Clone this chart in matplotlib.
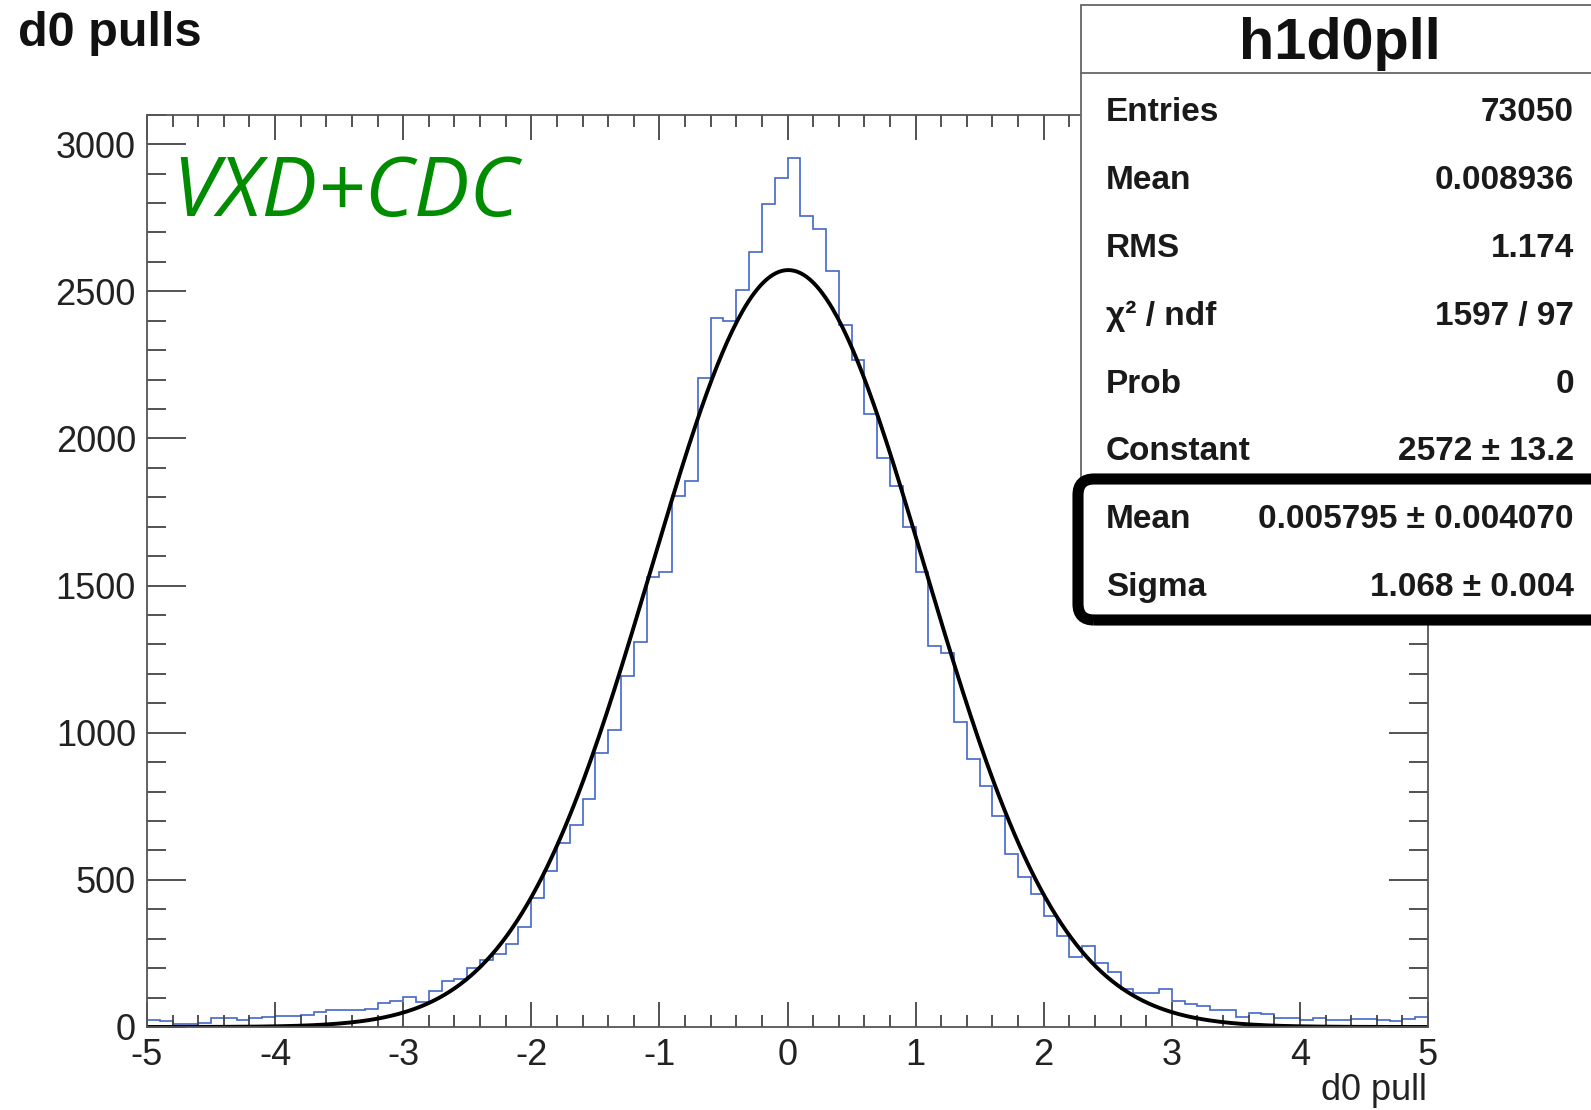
import numpy as np
import matplotlib
matplotlib.use("Agg")
import matplotlib.pyplot as plt
from matplotlib.patches import Rectangle, FancyBboxPatch
from matplotlib.lines import Line2D
from matplotlib.ticker import MultipleLocator

# === DATOS ===
x_min, x_max, n_bins = -5.0, 5.0, 100
counts = [
    23, 19, 11, 11, 12, 29, 31, 25, 29, 34,
    36, 38, 42, 52, 57, 59, 59, 60, 82, 87,
    102, 85, 122, 155, 163, 200, 226, 248, 283, 340,
    440, 530, 625, 685, 775, 930, 1010, 1194, 1309, 1529,
    1546, 1805, 1855, 2205, 2408, 2400, 2505, 2635, 2795, 2885,
    2952, 2757, 2712, 2568, 2385, 2265, 2083, 1932, 1840, 1700,
    1546, 1296, 1272, 1038, 910, 818, 716, 589, 509, 453,
    376, 309, 239, 274, 217, 186, 129, 116, 116, 129,
    87, 79, 72, 57, 59, 34, 48, 45, 31, 29,
    25, 31, 23, 25, 27, 27, 25, 19, 27, 34,
]

# parametros del ajuste gaussiano (de la caja de estadisticas)
fit_const = 2572.0
fit_mean = 0.005795
fit_sigma = 1.068

stat_labels = ["Entries", "Mean", "RMS", "\u03c7\u00b2 / ndf", "Prob",
               "Constant", "Mean", "Sigma"]
stat_values = ["73050", "0.008936", "1.174", "1597 / 97", "0",
               "2572 \u00b1 13.2", "0.005795 \u00b1 0.004070", "1.068 \u00b1 0.004"]

hist_name = "h1d0pll"
titulo = "d0 pulls"
etiqueta_x = "d0 pull"
etiqueta_extra = "VXD+CDC"

# === ESTILO ===
W, H = 1591, 1110
plt.rcParams["font.family"] = ["Liberation Sans", "DejaVu Sans"]
plt.rcParams["axes.unicode_minus"] = False

fig = plt.figure(figsize=(W / 100, H / 100), dpi=100)

# ejes en pixeles de la figura
ax_l, ax_r, ax_t, ax_b = 147, 1428, 114.7, 1027
ax = fig.add_axes([ax_l / W, 1 - ax_b / H, (ax_r - ax_l) / W, (ax_b - ax_t) / H])

edges = np.linspace(x_min, x_max, n_bins + 1)
ax.stairs(counts, edges, baseline=None, color="#4466c8", linewidth=1.2)

xf = np.linspace(x_min, x_max, 500)
yf = fit_const * np.exp(-0.5 * ((xf - fit_mean) / fit_sigma) ** 2)
ax.plot(xf, yf, color="black", linewidth=2.8)

ax.set_xlim(x_min, x_max)
ax.set_ylim(0, 3100)
ax.xaxis.set_major_locator(MultipleLocator(1))
ax.xaxis.set_minor_locator(MultipleLocator(0.2))
ax.yaxis.set_major_locator(MultipleLocator(500))
ax.yaxis.set_minor_locator(MultipleLocator(100))
ax.tick_params(which="both", direction="in", top=True, right=True,
               color="#444444", width=1.3, labelsize=26, labelcolor="#222222")
ax.tick_params(axis="x", which="major", length=18, pad=8)
ax.tick_params(axis="x", which="minor", length=8.5)
ax.tick_params(axis="y", which="major", length=28, pad=8)
ax.tick_params(axis="y", which="minor", length=13.5)
for s in ax.spines.values():
    s.set_color("#555555")
    s.set_linewidth(1.3)


def fx(px):
    return px / 100


def fy(py):
    return (H - py) / 100


tr = fig.dpi_scale_trans

fig.text(fx(1427), fy(1100), etiqueta_x, transform=tr, fontsize=26,
         ha="right", va="baseline", color="#222222")
fig.text(fx(18), fy(46), titulo, transform=tr, fontsize=35,
         fontweight="bold", ha="left", va="baseline", color="#111111")
fig.text(fx(172), fy(216), etiqueta_extra, transform=tr, fontsize=60,
         family=["Open Sans", "DejaVu Sans"], style="italic",
         color="#008c00", ha="left", va="baseline")

# caja de estadisticas
fig.patches.append(Rectangle((fx(1081), fy(616)), fx(560), (616 - 5) / 100,
                             transform=tr, facecolor="white",
                             edgecolor="#666666", linewidth=1.3, zorder=5))
fig.lines.append(Line2D([fx(1081), fx(1600)], [fy(73), fy(73)], transform=tr,
                        color="#666666", linewidth=1.3, zorder=6))
fig.text(fx(1340), fy(59), hist_name, transform=tr, fontsize=41.5,
         fontweight="bold", ha="center", va="baseline", color="#111111",
         zorder=7)
for i, (lab, val) in enumerate(zip(stat_labels, stat_values)):
    yb = (107 + 67 * i) * 1.0147 + 12
    fig.text(fx(1106), fy(yb), lab, transform=tr, fontsize=24,
             fontweight="bold", ha="left", va="baseline", color="#1a1a1a",
             zorder=7)
    fig.text(fx(1574), fy(yb), val, transform=tr, fontsize=24,
             fontweight="bold", ha="right", va="baseline", color="#1a1a1a",
             zorder=7)

# recuadro grueso resaltando Mean y Sigma
fig.patches.append(FancyBboxPatch((fx(1078), fy(620)), fx(560), (620 - 479) / 100,
                                  boxstyle="round,pad=0,rounding_size=0.16",
                                  transform=tr, facecolor="none",
                                  edgecolor="black", linewidth=8, zorder=8))

fig.savefig("out.png", dpi=100)
